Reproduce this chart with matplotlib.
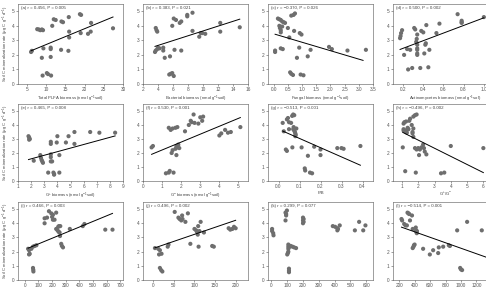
import numpy as np
import matplotlib
matplotlib.use("Agg")
import matplotlib.pyplot as plt

plt.rcParams['font.family'] = ['Liberation Sans', 'DejaVu Sans']
plt.rcParams['mathtext.default'] = 'regular'

# === DATA ===
a_x = [6.1, 6.3, 7.7, 8.1, 8.5, 8.9, 9.2, 8.9, 9.3, 9.1, 10.2, 10.5, 11.3, 11.2, 11.2, 11.2, 11.6, 12.0, 12.5, 14.0,
       14.4, 13.9, 15.9, 16.0, 16.0, 15.8, 18.8, 19.1, 19.0, 20.9, 21.7, 21.6, 27.4]
a_y = [2.2, 2.28, 3.77, 3.75, 3.7, 3.75, 3.7, 1.8, 2.45, 0.58, 0.75, 0.68, 0.58, 2.4, 2.5, 1.86, 4.0, 4.45, 4.4, 4.3,
       4.25, 2.35, 4.6, 3.6, 3.2, 2.28, 4.8, 4.75, 3.5, 3.45, 4.2, 3.6, 3.83]

b_x = [3.7, 3.8, 3.9, 3.6, 3.7, 3.9, 4.0, 4.2, 4.7, 4.7, 4.9, 5.6, 5.5, 5.7, 5.9, 6.1, 5.9, 6.1, 6.4, 6.2,
       6.9, 7.1, 7.1, 7.9, 7.9, 8.6, 8.6, 9.5, 9.7, 9.9, 10.3, 12.3, 12.3, 14.9]
b_y = [3.85, 3.7, 3.6, 2.2, 2.3, 2.4, 2.5, 2.45, 2.5, 2.3, 1.8, 1.9, 0.65, 0.7, 0.75, 0.55, 4.0, 4.5, 4.4, 2.35,
       4.2, 4.3, 2.3, 4.75, 4.65, 4.9, 3.65, 3.25, 3.5, 3.5, 3.45, 4.2, 3.6, 3.9]

c_x = [0.05, 0.05, 0.15, 0.2, 0.25, 0.3, 0.35, 0.4, 0.2, 0.22, 0.25, 0.25, 0.3, 0.25, 0.32, 0.5, 0.55, 0.62, 0.7, 0.75,
       0.72, 0.58, 0.62, 0.68, 0.82, 0.92, 0.98, 0.9, 0.95, 1.05, 1.2, 1.3, 1.95, 2.05, 2.6, 3.25]
c_y = [2.2, 2.3, 4.5, 4.45, 4.4, 4.3, 4.25, 4.2, 4.0, 3.85, 3.7, 3.55, 3.95, 2.45, 2.4, 3.85, 3.2, 4.7, 4.75, 4.85,
       3.65, 0.8, 0.7, 0.62, 1.8, 3.5, 3.4, 2.5, 0.65, 0.6, 1.9, 2.35, 2.55, 2.4, 2.3, 2.35]

d_x = [0.17, 0.175, 0.18, 0.19, 0.21, 0.24, 0.27, 0.25, 0.29, 0.31, 0.32, 0.33, 0.335, 0.34, 0.34, 0.34, 0.34, 0.34, 0.34, 0.38,
       0.40, 0.37, 0.41, 0.42, 0.425, 0.43, 0.45, 0.46, 0.53, 0.56, 0.74, 0.78, 0.78, 0.78, 1.0]
d_y = [3.15, 3.3, 3.5, 3.7, 2.0, 2.4, 2.35, 1.0, 1.1, 3.85, 3.75, 2.9, 3.1, 2.7, 2.45, 2.35, 2.1, 2.0, 3.4, 3.65,
       3.55, 1.1, 2.1, 2.7, 2.8, 4.05, 1.15, 2.35, 3.5, 4.15, 4.8, 4.35, 4.25, 4.2, 4.6]

e_x = [1.8, 1.85, 1.9, 1.85, 2.2, 2.7, 2.75, 2.8, 2.85, 2.9, 3.3, 3.5, 3.5, 3.5, 3.5, 3.5, 3.6, 3.7, 3.75, 3.75,
       3.95, 4.0, 4.15, 4.15, 4.65, 4.85, 5.3, 5.3, 6.5, 7.2, 8.4]
e_y = [3.2, 3.1, 3.0, 2.95, 1.45, 1.85, 1.65, 1.5, 1.4, 1.3, 0.6, 1.4, 1.7, 1.9, 2.8, 2.65, 1.4, 0.6, 0.5, 0.45,
       2.75, 3.2, 1.85, 0.6, 2.75, 3.2, 3.5, 2.65, 3.5, 3.45, 3.45]

f_x = [0.45, 0.52, 1.2, 1.35, 1.4, 1.35, 1.45, 1.55, 1.7, 1.8, 1.5, 1.55, 1.75, 1.7, 1.75, 1.8, 1.85, 1.9, 2.2, 2.4,
       2.5, 2.55, 2.65, 2.7, 2.9, 3.0, 3.1, 3.15, 4.0, 4.1, 4.3, 4.45, 4.6, 5.1, 1.6]
f_y = [2.4, 2.5, 0.55, 0.6, 0.72, 3.8, 3.65, 3.75, 3.8, 3.85, 2.0, 2.2, 1.85, 2.3, 2.5, 2.4, 2.6, 2.35, 3.55, 4.0,
       4.3, 4.2, 4.75, 4.15, 4.1, 4.55, 4.3, 4.6, 3.25, 3.4, 3.65, 3.45, 3.5, 3.85, 0.6]

g_x = [0.02, 0.025, 0.035, 0.04, 0.04, 0.045, 0.05, 0.05, 0.065, 0.07, 0.075, 0.06, 0.07, 0.075, 0.078, 0.08, 0.082, 0.08, 0.066, 0.11,
       0.125, 0.127, 0.14, 0.15, 0.16, 0.17, 0.2, 0.2, 0.28, 0.3, 0.31, 0.39, 0.072, 0.085]
g_y = [4.15, 3.55, 2.25, 2.15, 4.4, 4.5, 4.2, 3.7, 4.65, 4.75, 4.7, 4.15, 3.7, 3.6, 3.5, 3.4, 3.3, 3.2, 2.4, 2.4,
       0.9, 0.75, 1.8, 0.6, 0.55, 2.45, 1.85, 2.25, 2.35, 2.35, 2.3, 2.5, 3.85, 3.75]

h_x = [1.05, 1.1, 1.1, 1.1, 1.15, 1.25, 1.25, 1.3, 1.35, 1.4, 1.3, 1.45, 1.5, 1.2, 1.65, 1.65, 1.7, 1.8, 1.9, 1.6,
       1.7, 1.7, 1.8, 1.9, 1.85, 2.0, 2.1, 2.05, 2.2, 2.3, 2.4, 2.5, 2.35, 3.4, 3.6, 4.0, 6.0]
h_y = [2.4, 3.6, 3.7, 4.1, 4.2, 4.25, 3.5, 3.65, 3.8, 3.7, 3.45, 4.3, 4.45, 0.7, 3.5, 3.4, 4.6, 4.7, 4.75, 4.0,
       3.75, 3.15, 2.35, 2.25, 0.6, 2.35, 2.25, 1.85, 2.4, 2.6, 2.1, 1.9, 2.35, 0.55, 0.6, 2.5, 2.35]

i_x = [24, 31, 31, 36, 48, 60, 72, 85, 60, 62, 63, 145, 145, 163, 177, 194, 206, 206, 218, 200,
       230, 230, 240, 248, 255, 245, 250, 260, 258, 267, 272, 280, 330, 425, 437, 590, 643]
i_y = [2.2, 2.1, 1.8, 1.85, 2.2, 2.35, 2.4, 2.45, 0.85, 0.72, 0.6, 4.0, 4.35, 4.4, 4.85, 4.7, 4.6, 4.25, 4.25, 4.45,
       4.75, 3.6, 3.5, 3.4, 3.35, 3.75, 3.8, 3.8, 3.1, 2.55, 2.4, 2.3, 3.6, 3.8, 3.95, 3.55, 3.55]

j_x = [4, 12, 14, 20, 16, 16, 19, 22, 35, 37, 52, 61, 64, 68, 71, 70, 78, 84, 90, 100,
       104, 106, 109, 108, 110, 115, 112, 123, 143, 147, 183, 187, 192, 196, 200]
j_y = [2.25, 2.2, 1.8, 1.85, 2.1, 0.85, 0.7, 0.6, 2.35, 2.5, 4.8, 4.4, 4.3, 4.2, 4.3, 4.55, 4.1, 4.7, 2.55, 3.6,
       3.5, 3.4, 3.8, 3.2, 2.35, 4.1, 3.45, 3.35, 2.4, 2.35, 3.65, 3.55, 3.6, 3.75, 3.65]

k_x = [4, 4, 11, 13, 89, 93, 93, 98, 89, 107, 107, 107, 107, 111, 100, 104, 111, 111, 111,
       122, 133, 144, 156, 200, 204, 200, 204, 200, 389, 404, 418, 418, 422, 433, 529, 556, 582, 596]
k_y = [3.6, 3.45, 3.3, 3.15, 4.75, 4.65, 4.55, 4.9, 4.2, 2.5, 2.35, 2.2, 2.0, 2.3, 1.8, 1.9, 0.8, 0.65, 0.55,
       2.4, 2.35, 2.3, 2.25, 4.4, 4.3, 4.2, 4.1, 4.0, 3.8, 3.75, 3.65, 3.5, 3.6, 3.85, 3.5, 4.1, 3.5, 3.85]

l_x = [230, 238, 265, 282, 308, 320, 330, 300, 340, 366, 375, 375, 385, 392, 400, 415, 418, 422, 428, 430,
       510, 597, 640, 705, 713, 770, 843, 857, 951, 990, 1000, 1015, 1080, 1270]
l_y = [4.3, 4.2, 3.95, 3.85, 4.75, 4.7, 4.65, 3.85, 4.2, 4.55, 3.6, 2.25, 2.35, 2.45, 2.5, 3.7, 3.5, 3.4, 3.3, 3.45,
       2.2, 1.8, 2.1, 1.9, 2.3, 2.35, 2.45, 2.4, 3.5, 0.85, 0.75, 0.7, 4.1, 3.5]

# fitted lines (slope, intercept); (k) is not significant -> no line
fit_slope = [0.109, 0.1656, -0.58, 2.62, 0.256, 0.565, -6.6, -0.58, 0.00396, 0.0099, None, -0.00193]
fit_icept = [1.62, 1.99, 3.45, 1.93, 1.07, 1.65, 3.7, 4.08, 2.15, 2.23, None, 4.17]
fit_xmax = [None, None, 3.15] + [None] * 8 + [1480]

stats = ["(a) r = 0.456, P = 0.005", "(b) r = 0.383, P = 0.021", "(c) r = \u22120.370, P = 0.026",
         "(d) r = 0.500, P = 0.002", "(e) r = 0.465, P = 0.008", "(f) r = 0.530, P = 0.001",
         "(g) r = \u22120.513, P = 0.001", "(h) r = \u22120.496, P = 0.002", "(i) r = 0.466, P = 0.003",
         "(j) r = 0.496, P = 0.002", "(k) r = 0.299, P = 0.077", "(l) r = \u22120.514, P = 0.001"]

xlabels = [r"Total PLFA biomass (nmol g$^{-1}$soil)", r"Bacterial biomass (nmol g$^{-1}$soil)",
           r"Fungal biomass (nmol g$^{-1}$soil)", r"Actinomycetes biomass (nmol g$^{-1}$soil)",
           r"G$^{+}$ biomass (nmol g$^{-1}$soil)", r"G$^{-}$ biomass (nmol g$^{-1}$soil)",
           "F/B", r"G$^{+}$/G$^{-}$", "", "", "", ""]

xlims = [(2.7, 30), (2, 16), (-0.2, 3.5), (0.1, 1.14),
         (1, 9), (0, 5.5), (-0.05, 0.45), (0.45, 6.9),
         (-50, 720), (-25, 230), (-22, 644), (120, 1480)]
xticks = [np.arange(5, 31, 5), np.arange(2, 17, 2), np.arange(0, 3.51, 0.5), np.arange(0.2, 1.01, 0.2),
          np.arange(1, 10, 1), np.arange(0, 6, 1), np.arange(0, 0.41, 0.1), np.arange(1, 7, 1),
          np.arange(0, 701, 100), np.arange(0, 201, 50), np.arange(0, 601, 100), np.arange(200, 1201, 200)]
xfmt = ["%d", "%d", "%.1f", "%.1f", "%d", "%d", "%.1f", "%d", "%d", "%d", "%d", "%d"]

xs = [a_x, b_x, c_x, d_x, e_x, f_x, g_x, h_x, i_x, j_x, k_x, l_x]
ys = [a_y, b_y, c_y, d_y, e_y, f_y, g_y, h_y, i_y, j_y, k_y, l_y]

# === LAYOUT (pixels in a 486x288 canvas) ===
W, H = 486, 288
col_left = [18, 143, 268, 393]
ax_w = 105
row_top = [4, 104, 202]
row_bot = [84, 181, 280]

fig = plt.figure(figsize=(W / 100, H / 100), dpi=100)

for idx in range(12):
    r, c = divmod(idx, 4)
    ax = fig.add_axes([col_left[c] / W, 1 - row_bot[r] / H, ax_w / W, (row_bot[r] - row_top[r]) / H])
    x = np.array(xs[idx], dtype=float)
    y = np.array(ys[idx], dtype=float)
    ax.scatter(x, y, s=9, color="#6e6e6e", edgecolors="none", zorder=2)
    if fit_slope[idx] is not None:
        x1 = fit_xmax[idx] if fit_xmax[idx] is not None else x.max()
        xx = np.array([x.min(), x1])
        ax.plot(xx, fit_slope[idx] * xx + fit_icept[idx], color="black", lw=0.7, zorder=3)

    ax.set_xlim(*xlims[idx])
    ax.set_ylim(0, 5.5)
    ax.set_xticks(xticks[idx])
    ax.set_xticklabels([xfmt[idx] % v for v in xticks[idx]])
    ax.set_yticks(range(6))
    ax.tick_params(direction="out", length=1.5, width=0.4, labelsize=3.4, pad=0.8, colors="#555555")
    for sp in ax.spines.values():
        sp.set_linewidth(0.4)
        sp.set_color("#555555")

    ax.text(0.03, 0.97, stats[idx], transform=ax.transAxes, fontsize=3.2, va="top", ha="left", color="#444444")
    if xlabels[idx]:
        ax.set_xlabel(xlabels[idx], fontsize=3.1, labelpad=1.2, color="#444444")
    if c == 0:
        ax.set_ylabel(r"Soil C mineralization rate ($\mu$g C g$^{-1}$ d$^{-1}$)", fontsize=3.1,
                      labelpad=0.8, color="#444444")

fig.savefig("out.png", dpi=100)
